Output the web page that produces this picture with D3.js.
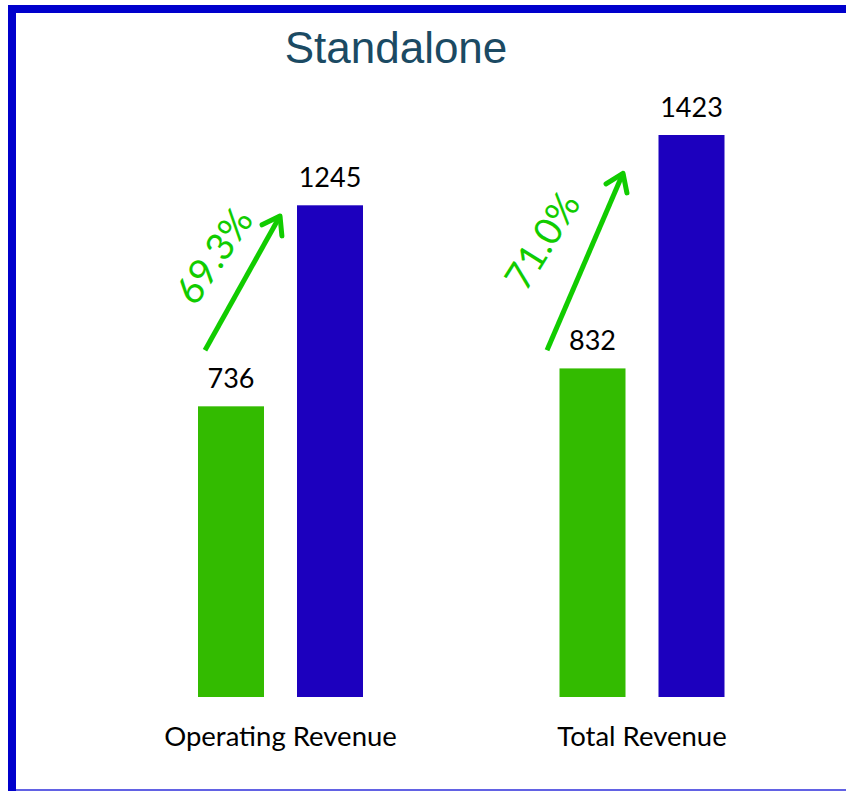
<!DOCTYPE html>
<html>
<head>
<meta charset="utf-8">
<script src="https://cdn.jsdelivr.net/npm/d3@7"></script>
<style>
  html, body { margin: 0; padding: 0; background: #ffffff; }
  svg { display: block; }
</style>
</head>
<body>
<svg id="chart" width="846" height="791"></svg>
<script>
// ---- data ----
const title = "Standalone";
const categories = ["Operating Revenue", "Total Revenue"];
const series = ["Previous", "Current"];
const previousValues = [736, 832];
const currentValues = [1245, 1423];
const growthLabels = ["69.3%", "71.0%"];
// arrow start/end expressed in data values (y)
const arrowStartValues = [878, 878];
const arrowEndValues = [1218, 1326];

const colors = { Previous: "#33bb00", Current: "#1c00be" };
const arrowColor = "#11cc00";

const svg = d3.select("#chart");
const W = 846, H = 791;

// frame
svg.append("rect").attr("x", 8).attr("y", 5).attr("width", W - 8).attr("height", 8).attr("fill", "#0000cc");
svg.append("rect").attr("x", 8).attr("y", 5).attr("width", 8).attr("height", 786).attr("fill", "#0000cc");
svg.append("rect").attr("x", 16).attr("y", 789).attr("width", W - 16).attr("height", 2).attr("fill", "#6262e4");

// title
svg.append("text")
  .attr("x", 396).attr("y", 63)
  .attr("text-anchor", "middle")
  .attr("font-family", "'Liberation Sans', Arial, sans-serif")
  .attr("font-size", 44)
  .attr("fill", "#1b4a63")
  .text(title);

// scales
const x0 = d3.scalePoint().domain(categories).range([280.5, 642]);
const x1 = d3.scaleBand().domain(series).range([-82.5, 82.5]).paddingInner(1 / 3).paddingOuter(0);
const y = d3.scaleLinear().domain([0, 1423]).range([697, 135]);

const data = categories.map((c, i) => ({
  category: c,
  values: [
    { key: "Previous", value: previousValues[i] },
    { key: "Current", value: currentValues[i] }
  ],
  growth: growthLabels[i],
  a0: arrowStartValues[i],
  a1: arrowEndValues[i]
}));

const groups = svg.selectAll("g.group").data(data).join("g")
  .attr("class", "group")
  .attr("transform", d => `translate(${x0(d.category)},0)`);

groups.selectAll("rect.bar").data(d => d.values).join("rect")
  .attr("class", "bar")
  .attr("x", d => x1(d.key))
  .attr("y", d => y(d.value))
  .attr("width", x1.bandwidth())
  .attr("height", d => y(0) - y(d.value))
  .attr("fill", d => colors[d.key]);

groups.selectAll("text.val").data(d => d.values).join("text")
  .attr("class", "val")
  .attr("x", d => x1(d.key) + x1.bandwidth() / 2)
  .attr("y", d => y(d.value) - 18)
  .attr("text-anchor", "middle")
  .attr("font-family", "Lato, 'Open Sans', sans-serif")
  .attr("font-size", 27)
  .attr("fill", "#000")
  .text(d => d.value);

// category labels
groups.append("text")
  .attr("x", 0).attr("y", 746)
  .attr("text-anchor", "middle")
  .attr("font-family", "Lato, 'Open Sans', sans-serif")
  .attr("font-size", 27.5)
  .attr("fill", "#000")
  .text(d => d.category);

// arrows
const arrowX = [[-75.5, -0.5], [-95, -19]];
const labelPos = [{ dx: -68, dy: 255, rot: -56 }, { dx: -101, dy: 240, rot: -58 }];
data.forEach((d, i) => {
  const cx = x0(d.category);
  const xs = cx + arrowX[i][0], ys = y(d.a0);
  const xe = cx + arrowX[i][1], ye = y(d.a1);
  const ang = Math.atan2(ye - ys, xe - xs);
  const hl = 20, ha = Math.PI / 5.2;
  svg.append("line")
    .attr("x1", xs).attr("y1", ys).attr("x2", xe).attr("y2", ye)
    .attr("stroke", arrowColor).attr("stroke-width", 5).attr("stroke-linecap", "butt");
  const p1 = [xe - hl * Math.cos(ang - ha), ye - hl * Math.sin(ang - ha)];
  const p2 = [xe - hl * Math.cos(ang + ha), ye - hl * Math.sin(ang + ha)];
  svg.append("path")
    .attr("d", `M${p1[0]},${p1[1]} L${xe},${ye} L${p2[0]},${p2[1]}`)
    .attr("fill", "none").attr("stroke", arrowColor).attr("stroke-width", 5)
    .attr("stroke-linecap", "round").attr("stroke-linejoin", "round");
  const lp = labelPos[i];
  svg.append("text")
    .attr("transform", `translate(${cx + lp.dx},${lp.dy}) rotate(${lp.rot})`)
    .attr("text-anchor", "middle")
    .attr("dominant-baseline", "central")
    .attr("font-family", "Lato, 'Open Sans', sans-serif")
    .attr("font-size", 38)
    .attr("fill", arrowColor)
    .text(d.growth);
});
</script>
</body>
</html>
